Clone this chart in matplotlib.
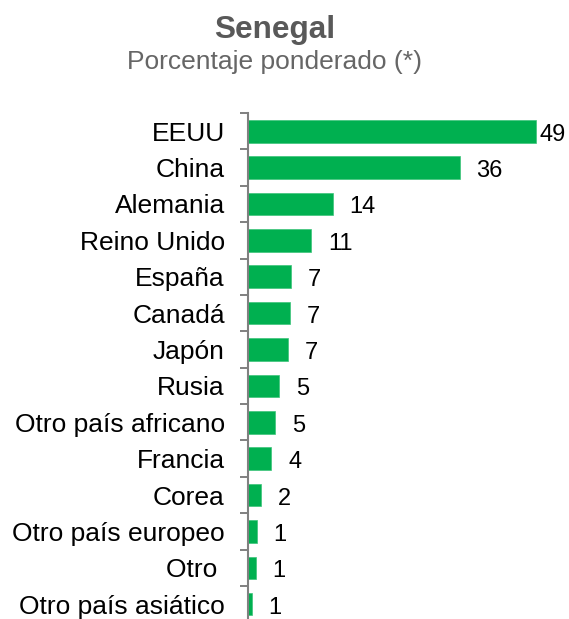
import matplotlib

matplotlib.use("Agg")
import matplotlib.pyplot as plt
import numpy as np

plt.rcParams["font.family"] = ["Liberation Sans", "DejaVu Sans"]

# Destinos preferidos, porcentaje ponderado
countries = [
    "EEUU", "China", "Alemania", "Reino Unido", "España", "Canadá", "Japón",
    "Rusia", "Otro país africano", "Francia", "Corea", "Otro país europeo",
    "Otro ", "Otro país asiático",
]
weighted_pct = [49.0, 36.06, 14.4, 10.75, 7.2, 7.1, 6.8, 5.2, 4.6, 3.9, 2.1,
                1.4, 1.25, 0.6]

GREEN = "#00B050"
GRAY = "#808080"

fig = plt.figure(figsize=(5.69, 6.19), dpi=100)
ax = fig.add_axes([0.4367, -0.0055, 0.5633, 0.8229])

y = np.arange(len(countries))
ax.barh(y, weighted_pct, height=0.62, color=GREEN, edgecolor="#3cc47a",
        linewidth=0.5)
ax.set_ylim(len(countries) - 0.5, -0.5)
ax.set_xlim(0, 54.7)

for yi, v in zip(y, weighted_pct):
    # the longest bar sits against the right edge, so its label hugs it
    dx = 2.5 if v == max(weighted_pct) else 12
    ax.annotate(f"{v:.0f}", xy=(v, yi), xytext=(dx, -2.5),
                textcoords="offset points", va="center", ha="left",
                fontsize=17, color="black")

ax.set_yticks(y)
ax.set_yticklabels(countries, fontsize=19)
ax.set_yticks(np.arange(len(countries) + 1) - 0.5, minor=True)
ax.tick_params(axis="y", which="major", length=0, pad=17)
ax.tick_params(axis="y", which="minor", length=6, width=1.4, color=GRAY)
ax.set_xticks([])

for side in ("top", "right", "bottom"):
    ax.spines[side].set_visible(False)
ax.spines["left"].set_color(GRAY)
ax.spines["left"].set_linewidth(1.5)

fig.text(0.483, 0.938, "Senegal", ha="center", va="baseline", fontsize=22.7,
         fontweight="bold", color="#595959")
fig.text(0.483, 0.888, "Porcentaje ponderado (*)", ha="center",
         va="baseline", fontsize=19, color="#666666")

fig.savefig("out.png", dpi=100)
